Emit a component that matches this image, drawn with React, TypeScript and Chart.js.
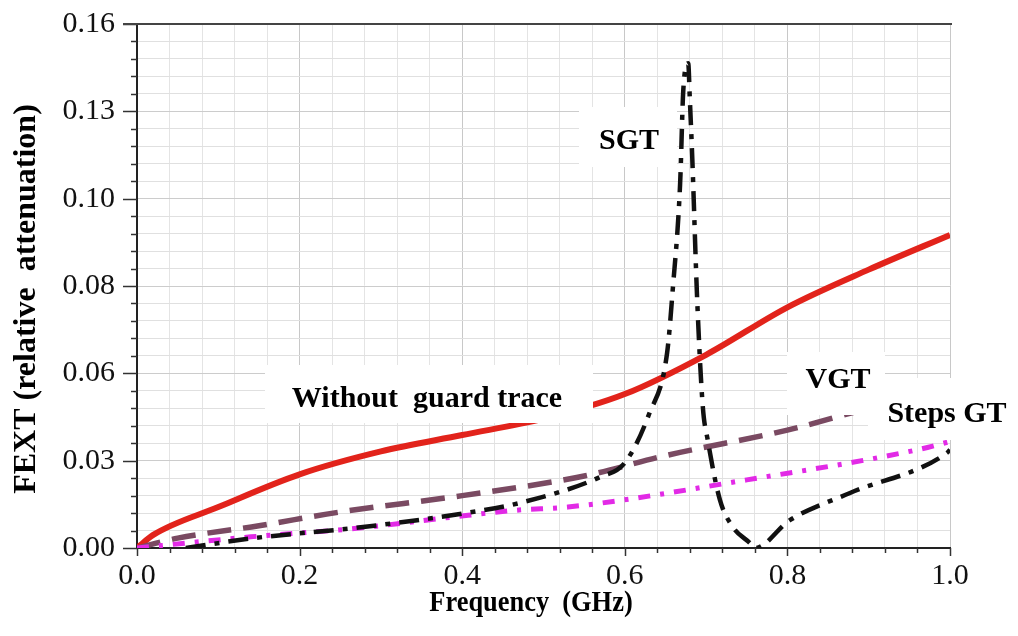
import React, { useEffect, useRef } from 'react';
import { Chart, registerables } from 'chart.js';

Chart.register(...registerables);

// ---- tick labels ----
const yTickLabels = ['0.00', '0.03', '0.06', '0.08', '0.10', '0.13', '0.16'];
const xTickLabels = ['0.0', '0.2', '0.4', '0.6', '0.8', '1.0'];

// ---- series: Without guard trace ----
const noGuardX = [0, 0.02, 0.1, 0.2, 0.3, 0.4, 0.5, 0.6, 0.7, 0.8, 0.9, 1.0];
const noGuardY = [0, 0.004, 0.0125, 0.0225, 0.0295, 0.0345, 0.0395, 0.047, 0.059, 0.0735, 0.085, 0.0956];

// ---- series: VGT ----
const vgtX = [0, 0.05, 0.15, 0.25, 0.4, 0.55, 0.65, 0.8, 0.9, 1.0];
const vgtY = [0, 0.003, 0.0068, 0.011, 0.016, 0.022, 0.0282, 0.036, 0.0425, 0.047];

// ---- series: Steps GT ----
const stepsX = [0, 0.06, 0.14, 0.27, 0.39, 0.47, 0.53, 0.75, 0.96, 1.0];
const stepsY = [0, 0.0015, 0.0034, 0.006, 0.0095, 0.0116, 0.0125, 0.0208, 0.03, 0.0325];

// ---- series: SGT ----
const sgtX = [0.06, 0.143, 0.278, 0.405, 0.47, 0.57, 0.6, 0.63, 0.652, 0.659, 0.668, 0.672, 0.678, 0.68, 0.683, 0.689, 0.696, 0.702, 0.717, 0.733, 0.754, 0.76, 0.803, 0.877, 0.996, 1.0];
const sgtY = [0, 0.003, 0.0064, 0.0107, 0.0137, 0.0217, 0.026, 0.041, 0.0595, 0.079, 0.111, 0.14, 0.148, 0.137, 0.119, 0.076, 0.043, 0.033, 0.0147, 0.0064, 0.0015, 0, 0.0085, 0.0168, 0.029, 0.03];

const labelNoGuard = 'Without  guard trace';
const labelVGT = 'VGT';
const labelSteps = 'Steps GT';
const labelSGT = 'SGT';
const yTitle = 'FEXT (relative  attenuation)';
const xTitle = 'Frequency  (GHz)';

const Y_MAX = 0.16;
const X_MAX = 1.0;
const SUB = 5;

const toPoints = (xs: number[], ys: number[]) => xs.map((x, i) => ({ x, y: ys[i] }));

const SERIF = '"Liberation Serif", "Times New Roman", serif';

const decorPlugin = {
  id: 'decor',
  afterDatasetsDraw(chart: any) {
    const { ctx } = chart;
    ctx.save();
    const boxes = [
      { x: 265, y: 365, w: 328, h: 58 },
      { x: 579, y: 107, w: 98, h: 60 },
      { x: 787, y: 352, w: 98, h: 63 },
      { x: 868, y: 378, w: 150, h: 62 },
    ];
    ctx.fillStyle = '#ffffff';
    boxes.forEach((b) => ctx.fillRect(b.x, b.y, b.w, b.h));
    ctx.fillStyle = '#000000';
    ctx.font = `bold 30px ${SERIF}`;
    ctx.textAlign = 'center';
    ctx.textBaseline = 'alphabetic';
    ctx.fillText(labelNoGuard, 427, 407);
    ctx.fillText(labelSGT, 629, 149);
    ctx.fillText(labelVGT, 838, 388);
    ctx.fillText(labelSteps, 947, 422);
    ctx.restore();
  },
  afterDraw(chart: any) {
    const { ctx, chartArea, scales } = chart;
    const x = scales.x;
    const y = scales.y;
    ctx.save();
    ctx.strokeStyle = '#333333';
    ctx.lineWidth = 1.5;
    y.ticks.forEach((t: any, i: number) => {
      const py = Math.round(y.getPixelForValue(t.value)) + 0.5;
      const len = i % SUB === 0 ? 14 : 6;
      ctx.beginPath();
      ctx.moveTo(chartArea.left - len, py);
      ctx.lineTo(chartArea.left, py);
      ctx.stroke();
    });
    x.ticks.forEach((t: any, i: number) => {
      const px = Math.round(x.getPixelForValue(t.value)) + 0.5;
      const len = i % SUB === 0 ? 8 : 5;
      ctx.beginPath();
      ctx.moveTo(px, chartArea.bottom);
      ctx.lineTo(px, chartArea.bottom + len);
      ctx.stroke();
    });
    // top frame line
    ctx.strokeStyle = '#444444';
    ctx.lineWidth = 2;
    ctx.beginPath();
    ctx.moveTo(chartArea.left - 14, chartArea.top);
    ctx.lineTo(chartArea.right + 2, chartArea.top);
    ctx.stroke();

    // axis titles
    ctx.fillStyle = '#000000';
    ctx.textAlign = 'center';
    ctx.textBaseline = 'alphabetic';

    ctx.save();
    ctx.translate(531, 611);
    ctx.scale(0.88, 1);
    ctx.font = `bold 30px ${SERIF}`;
    ctx.fillText(xTitle, 0, 0);
    ctx.restore();

    ctx.save();
    ctx.translate(35, 299);
    ctx.rotate(-Math.PI / 2);
    ctx.font = `bold 32px ${SERIF}`;
    ctx.fillText(yTitle, 0, 0);
    ctx.restore();

    ctx.restore();
  },
};

export default function App() {
  const canvasRef = useRef<HTMLCanvasElement | null>(null);

  useEffect(() => {
    if (!canvasRef.current) return;
    const common = {
      pointRadius: 0,
      fill: false,
      cubicInterpolationMode: 'monotone' as const,
      borderCapStyle: 'butt' as const,
    };
    const chart = new Chart(canvasRef.current, {
      type: 'line',
      data: {
        datasets: [
          {
            ...common,
            label: labelSGT,
            data: toPoints(sgtX, sgtY),
            borderColor: '#111111',
            borderWidth: 4.5,
            borderDash: [20, 9, 5, 9],
          },
          {
            ...common,
            label: labelSteps,
            data: toPoints(stepsX, stepsY),
            borderColor: '#e22ae6',
            borderWidth: 5,
            borderDash: [12, 10, 4, 10],
          },
          {
            ...common,
            label: labelVGT,
            data: toPoints(vgtX, vgtY),
            borderColor: '#7a4a62',
            borderWidth: 5.5,
            borderDash: [24, 12],
          },
          {
            ...common,
            label: labelNoGuard,
            data: toPoints(noGuardX, noGuardY),
            borderColor: '#e2231b',
            borderWidth: 6,
          },
        ],
      },
      options: {
        animation: false,
        responsive: false,
        devicePixelRatio: 1,
        layout: { padding: { top: 24, right: 68, left: 0, bottom: 0 } },
        plugins: {
          legend: { display: false },
          tooltip: { enabled: false },
        },
        scales: {
          x: {
            type: 'linear',
            min: 0,
            max: X_MAX,
            afterBuildTicks: (scale: any) => {
              const n = (xTickLabels.length - 1) * SUB;
              scale.ticks = Array.from({ length: n + 1 }, (_, i) => ({ value: (X_MAX * i) / n }));
            },
            afterFit: (scale: any) => {
              scale.height = 88;
              scale.paddingLeft = 0;
              scale.paddingRight = 0;
            },
            ticks: {
              autoSkip: false,
              maxRotation: 0,
              padding: 10,
              color: '#111111',
              font: { family: SERIF, size: 30 },
              callback: (_v: any, i: number) => (i % SUB === 0 ? xTickLabels[i / SUB] : ''),
            },
            grid: {
              drawTicks: false,
              color: (c: any) => (c.index % SUB === 0 ? '#c8c8c8' : '#e4e4e4'),
              lineWidth: 1,
            },
            border: { display: true, color: '#222222', width: 2 },
          },
          y: {
            type: 'linear',
            min: 0,
            max: Y_MAX,
            afterBuildTicks: (scale: any) => {
              const n = (yTickLabels.length - 1) * SUB;
              scale.ticks = Array.from({ length: n + 1 }, (_, i) => ({ value: (Y_MAX * i) / n }));
            },
            afterFit: (scale: any) => {
              scale.width = 137;
              scale.paddingTop = 0;
              scale.paddingBottom = 0;
            },
            ticks: {
              autoSkip: false,
              padding: 22,
              color: '#111111',
              font: { family: SERIF, size: 30 },
              callback: (_v: any, i: number) => (i % SUB === 0 ? yTickLabels[i / SUB] : ''),
            },
            grid: {
              drawTicks: false,
              color: (c: any) => (c.index % SUB === 0 ? '#cccccc' : '#e0e0e0'),
              lineWidth: 1,
            },
            border: { display: true, color: '#222222', width: 2 },
          },
        },
      },
      plugins: [decorPlugin],
    });
    return () => chart.destroy();
  }, []);

  return (
    <div style={{ position: 'fixed', left: 0, top: 0, width: 1018, height: 636, background: '#ffffff' }}>
      <canvas ref={canvasRef} width={1018} height={636} style={{ display: 'block' }} />
    </div>
  );
}
